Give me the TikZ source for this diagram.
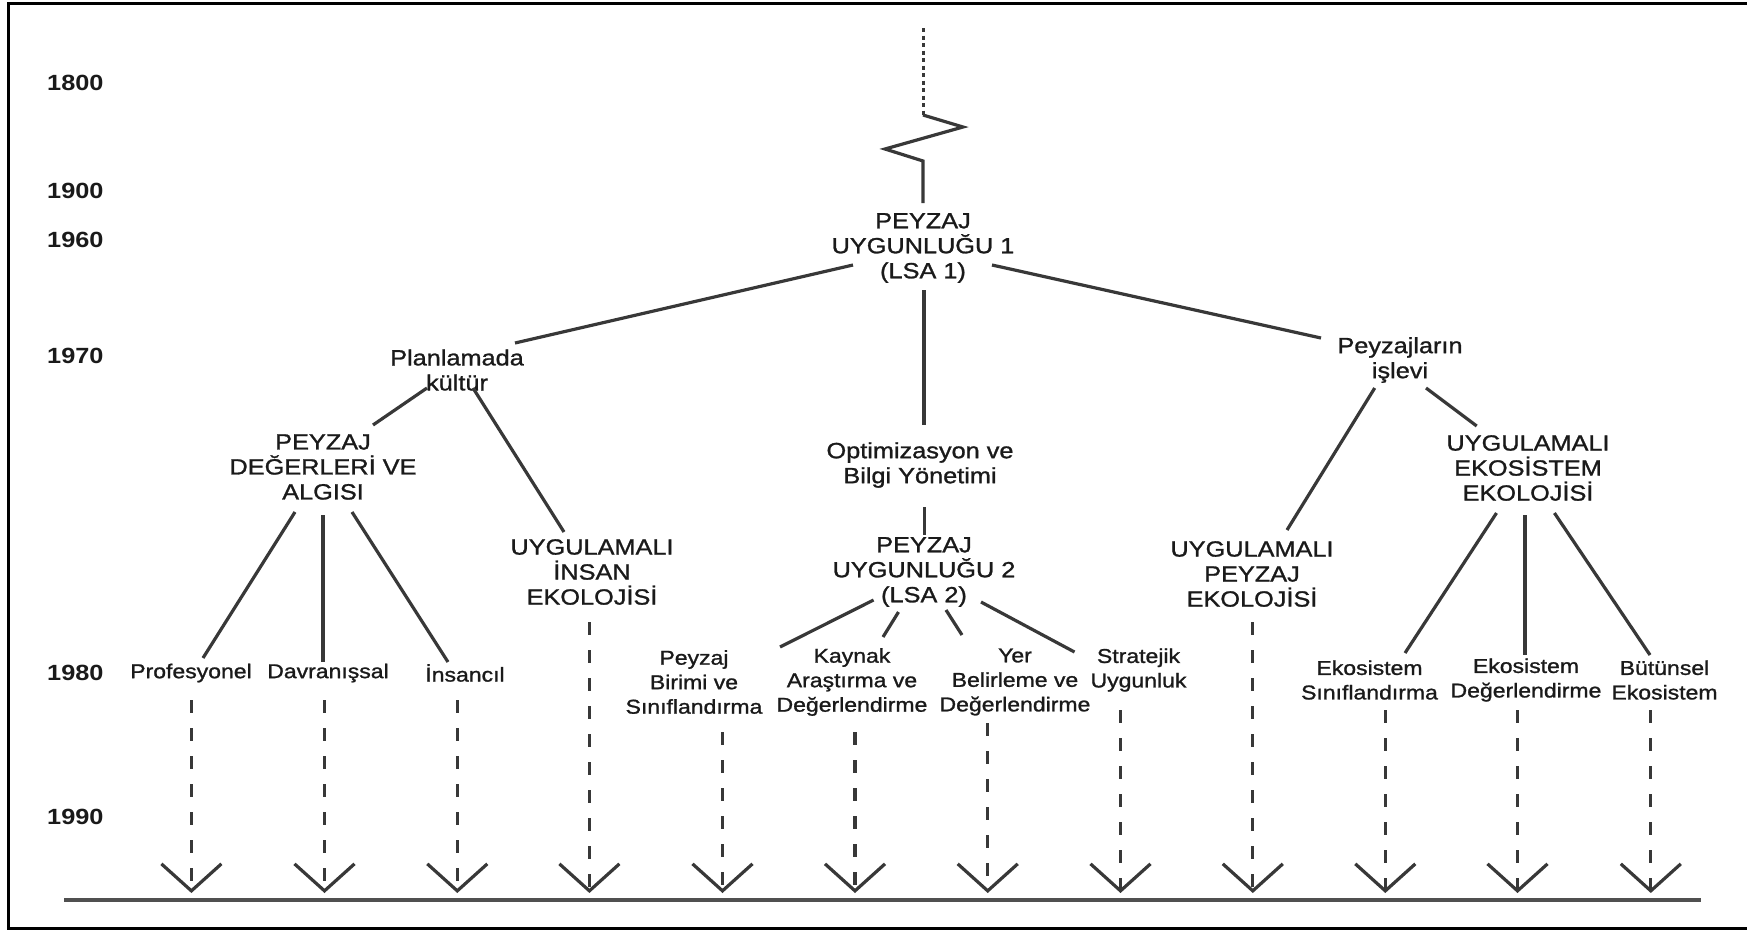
\documentclass[tikz,border=0pt]{standalone}
\usepackage{fontspec}
\setmainfont{Liberation Sans}[FakeStretch=1.15]
\newfontfamily\txtfont{Liberation Sans}[FakeStretch=1.15,FakeBold=1.2]
\usetikzlibrary{arrows.meta}
\definecolor{ln}{HTML}{383838}
\definecolor{tx}{HTML}{1A1A1A}
\definecolor{bl}{HTML}{505050}
\tikzset{
  hd/.style={font=\txtfont\fontsize{22}{25}\selectfont, align=center, inner sep=0pt, text=tx},
  lb/.style={font=\txtfont\fontsize{20}{24.5}\selectfont, align=center, inner sep=0pt, text=tx},
  yr/.style={font=\bfseries\fontsize{22}{25}\selectfont, anchor=west, inner sep=0pt, text=tx},
  conn/.style={draw=ln, line width=3.2pt},
  dotline/.style={draw=ln, line width=3pt, dash pattern=on 4pt off 3.5pt},
  darrow/.style={draw=ln, line width=3.2pt, dash pattern=on 13pt off 15pt,
    -{Straight Barb[length=27pt,width=60pt,line width=3.2pt]}},
  baseline/.style={draw=bl, line width=4pt},
  frame/.style={draw=black, line width=3pt},
}
\begin{document}
\begin{tikzpicture}[x=1pt,y=-1pt]
\useasboundingbox (0,0) rectangle (1747,929);
% frame
\draw[frame] (1747,3) -- (8,3) -- (8,928) -- (1747,928);

% years
\node[yr] (y1800) at (47,83) {1800};
\node[yr] (y1900) at (47,191) {1900};
\node[yr] (y1960) at (47,240) {1960};
\node[yr] (y1970) at (47,356) {1970};
\node[yr] (y1980) at (47,673) {1980};
\node[yr] (y1990) at (47,817) {1990};

% main nodes
\node[hd] (lsa1) at (923,248) {PEYZAJ\\UYGUNLUĞU 1\\(LSA 1)};
\node[hd] (plan) at (457,370) {Planlamada\\kültür};
\node[hd] (pdva) at (323,467) {PEYZAJ\\DEĞERLERİ VE\\ALGISI};
\node[hd] (uie) at (592,572) {UYGULAMALI\\İNSAN\\EKOLOJİSİ};
\node[hd] (opt) at (920,465) {Optimizasyon ve\\Bilgi Yönetimi};
\node[hd] (lsa2) at (924,572) {PEYZAJ\\UYGUNLUĞU 2\\(LSA 2)};
\node[hd] (pisl) at (1400,360) {Peyzajların\\işlevi};
\node[hd] (upe) at (1252,574) {UYGULAMALI\\PEYZAJ\\EKOLOJİSİ};
\node[hd] (uee) at (1528,468) {UYGULAMALI\\EKOSİSTEM\\EKOLOJİSİ};

% bottom labels
\node[lb] (prof) at (191,673) {Profesyonel};
\node[lb] (davr) at (328,673) {Davranışsal};
\node[lb] (insa) at (465,673) {İnsancıl};
\node[lb] (pbs) at (694,682) {Peyzaj\\Birimi ve\\Sınıflandırma};
\node[lb] (kay) at (852,682) {Kaynak\\Araştırma ve\\Değerlendirme};
\node[lb] (yer) at (1015,682) {Yer\\Belirleme ve\\Değerlendirme};
\node[lb] (str) at (1138.5,670) {Stratejik\\Uygunluk};
\node[lb] (eks) at (1369.5,680) {Ekosistem\\Sınıflandırma};
\node[lb] (ekd) at (1526,680) {Ekosistem\\Değerlendirme};
\node[lb] (bue) at (1664.5,680) {Bütünsel\\Ekosistem};

% top dotted line and break symbol
\coordinate (topend) at (923,28);
\coordinate (zz) at (923,115);
\draw[dotline] (topend) -- (zz);
\draw[conn, line join=miter] (zz) -- ++(40,12) -- ++(-78,22) -- ++(38,12) -- ([shift={(0,-45)}]lsa1.center);

% connectors
\draw[conn] ([shift={(-70,17)}]lsa1.center) -- ([shift={(58,-27)}]plan.center);
\draw[conn] ([shift={(69,17)}]lsa1.center) -- ([shift={(-79,-22)}]pisl.center);
\draw[conn] ([shift={(1,42)}]lsa1.center) -- ([shift={(4,-40)}]opt.center);
\draw[conn] ([shift={(-30,18)}]plan.center) -- ([shift={(50,-42)}]pdva.center);
\draw[conn] ([shift={(16,18)}]plan.center) -- ([shift={(-28,-40)}]uie.center);
\draw[conn] ([shift={(-28,45)}]pdva.center) -- ([shift={(12,-15)}]prof.center);
\draw[conn] ([shift={(0,48)}]pdva.center) -- ([shift={(-5,-11)}]davr.center);
\draw[conn] ([shift={(29,45)}]pdva.center) -- ([shift={(-17,-11)}]insa.center);
\draw[conn] ([shift={(4.5,42)}]opt.center) -- ([shift={(0.5,-37)}]lsa2.center);
\draw[conn] ([shift={(-50.4,28)}]lsa2.center) -- ([shift={(86,-35)}]pbs.center);
\draw[conn] ([shift={(-25.5,40)}]lsa2.center) -- ([shift={(31,-45)}]kay.center);
\draw[conn] ([shift={(22,38)}]lsa2.center) -- ([shift={(-53,-47)}]yer.center);
\draw[conn] ([shift={(57,30)}]lsa2.center) -- ([shift={(-64,-18)}]str.center);
\draw[conn] ([shift={(-25.3,28)}]pisl.center) -- ([shift={(35,-44)}]upe.center);
\draw[conn] ([shift={(26,28)}]pisl.center) -- ([shift={(-51.3,-42)}]uee.center);
\draw[conn] ([shift={(-31.5,45)}]uee.center) -- ([shift={(35.5,-27)}]eks.center);
\draw[conn] ([shift={(-3,47)}]uee.center) -- ([shift={(-1,-25)}]ekd.center);
\draw[conn] ([shift={(26.4,45)}]uee.center) -- ([shift={(-14.5,-25)}]bue.center);

% time line
\coordinate (tl0) at (64,900);
\coordinate (tl1) at (1701,900);
\draw[baseline] (tl0) -- (tl1);

% dashed arrows down to the time line
\draw[darrow] ([shift={(0.4,27)}]prof.center) -- ++(0,193);
\draw[darrow] ([shift={(-3.5,27)}]davr.center) -- ++(0,193);
\draw[darrow] ([shift={(-7.7,27)}]insa.center) -- ++(0,193);
\draw[darrow] ([shift={(-2.6,50)}]uie.center) -- ++(0,271);
\draw[darrow] ([shift={(28.5,50)}]pbs.center) -- ++(0,161);
\draw[darrow] ([shift={(3,50)}]kay.center) -- ++(0,161);
\draw[darrow] ([shift={(-27.3,41)}]yer.center) -- ++(0,170);
\draw[darrow] ([shift={(-18,40)}]str.center) -- ++(0,183);
\draw[darrow] ([shift={(0.8,48)}]upe.center) -- ++(0,271);
\draw[darrow] ([shift={(15.8,30)}]eks.center) -- ++(0,183);
\draw[darrow] ([shift={(-8.5,30)}]ekd.center) -- ++(0,183);
\draw[darrow] ([shift={(-13.7,30)}]bue.center) -- ++(0,183);
\end{tikzpicture}
\end{document}
